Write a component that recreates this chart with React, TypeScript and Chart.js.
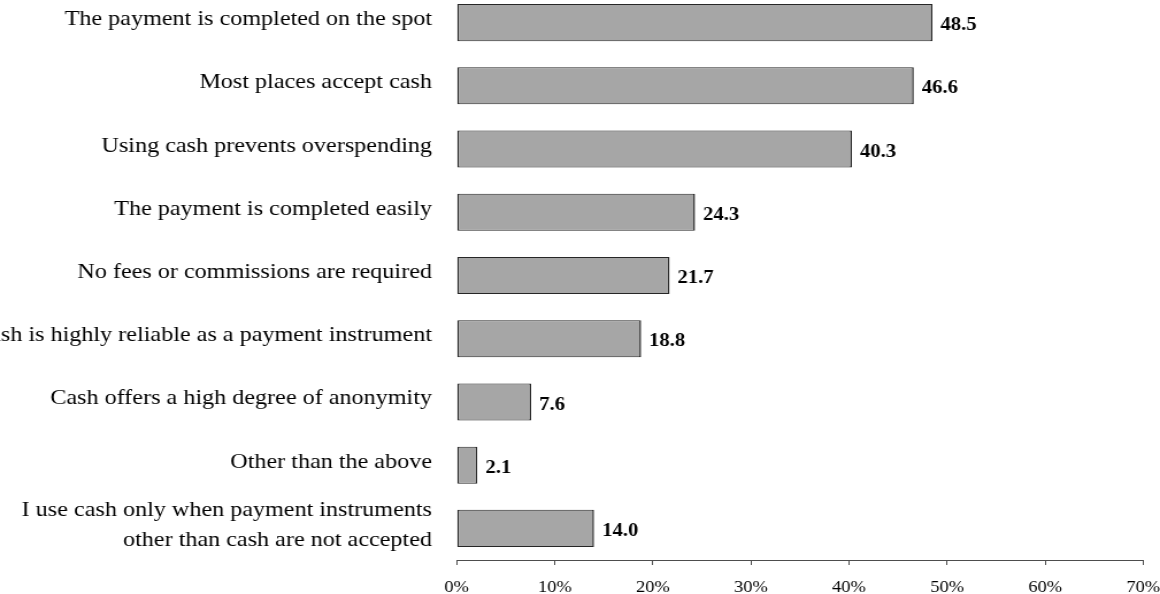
import React, { useEffect, useRef } from "react";
import { Chart, registerables } from "chart.js";

Chart.register(...registerables);

const categories: (string | string[])[] = [
  "The payment is completed on the spot",
  "Most places accept cash",
  "Using cash prevents overspending",
  "The payment is completed easily",
  "No fees or commissions are required",
  "Cash is highly reliable as a payment instrument",
  "Cash offers a high degree of anonymity",
  "Other than the above",
  ["I use cash only when payment instruments", "other than cash are not accepted"],
];

const values = [48.5, 46.6, 40.3, 24.3, 21.7, 18.8, 7.6, 2.1, 14.0];

const xMin = 0;
const xMax = 70;
const xStep = 10;

// horizontal stretch of the reference rendering
const CSS_W = 1160;
const STRETCH = 1.15;
const CANVAS_W = Math.round(CSS_W / STRETCH);
const SX = CSS_W / CANVAS_W;
const CANVAS_H = 603;
const AREA_LEFT = 456.7;
const AREA_RIGHT = 1143.3;

const FONT = "'Liberation Serif', 'Times New Roman', serif";

const valueLabels = {
  id: "valueLabels",
  afterDatasetsDraw(chart: any) {
    const ctx = chart.ctx;
    const meta = chart.getDatasetMeta(0);
    ctx.save();
    ctx.fillStyle = "#000";
    ctx.font = `bold 18px ${FONT}`;
    ctx.textAlign = "left";
    ctx.textBaseline = "middle";
    meta.data.forEach((bar: any, i: number) => {
      const v = values[i];
      ctx.fillText(v.toFixed(1), bar.x + 8 / SX, bar.y + 3);
    });
    ctx.restore();
  },
};

export default function App() {
  const ref = useRef<HTMLCanvasElement | null>(null);
  useEffect(() => {
    const canvas = ref.current!;
    const chart = new Chart(canvas, {
      type: "bar",
      data: {
        labels: categories,
        datasets: [
          {
            data: values,
            backgroundColor: "#a6a6a6",
            borderColor: "#262626",
            borderWidth: { top: 1, bottom: 1, left: 1.5, right: 1.5 },
            borderSkipped: false,
            barPercentage: 0.586,
            categoryPercentage: 1,
          },
        ],
      },
      options: {
        indexAxis: "y",
        responsive: false,
        animation: false,
        devicePixelRatio: 1,
        layout: { padding: { top: 0, bottom: 0, left: 0, right: CANVAS_W - AREA_RIGHT / SX } },
        plugins: {
          legend: { display: false },
          tooltip: { enabled: false },
          title: { display: false },
        },
        scales: {
          x: {
            type: "linear",
            min: xMin,
            max: xMax,
            afterFit(scale: any) {
              scale.height = 34;
              scale.paddingLeft = 0;
              scale.paddingRight = 0;
            },
            afterBuildTicks(scale: any) {
              const t = [];
              for (let v = xMin; v <= xMax; v += xStep) t.push({ value: v });
              scale.ticks = t;
            },
            ticks: {
              color: "#000",
              font: { family: FONT, size: 16 },
              padding: 13,
              maxRotation: 0,
              callback: (v: any) => `${v}%`,
            },
            grid: {
              display: true,
              drawOnChartArea: false,
              drawTicks: true,
              tickLength: 5,
              color: "#4d4d4d",
              lineWidth: 1,
            },
            border: { display: true, color: "#4d4d4d", width: 1 },
          },
          y: {
            type: "category",
            afterFit(scale: any) {
              scale.width = AREA_LEFT / SX;
              scale.paddingTop = 0;
              scale.paddingBottom = 0;
            },
            ticks: {
              color: "#000",
              font: { family: FONT, size: 21, lineHeight: 1.43 },
              padding: AREA_LEFT / SX - 432 / SX,
              labelOffset: -3,
              crossAlign: "near",
            },
            grid: { display: false, drawTicks: false },
            border: { display: false },
          },
        },
      },
      plugins: [valueLabels],
    });
    return () => chart.destroy();
  }, []);
  return (
    <div style={{ position: "absolute", left: 0, top: -9, width: CSS_W, height: CANVAS_H }}>
      <canvas
        ref={ref}
        width={CANVAS_W}
        height={CANVAS_H}
        style={{ width: CSS_W + "px", height: CANVAS_H + "px", display: "block" }}
      />
    </div>
  );
}
